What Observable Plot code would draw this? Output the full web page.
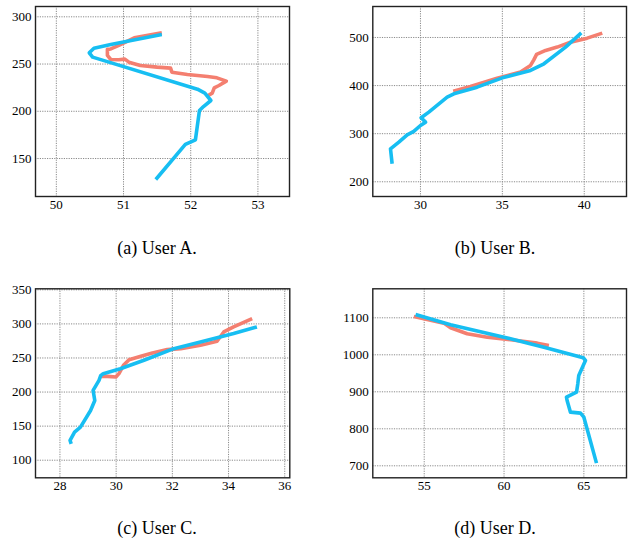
<!DOCTYPE html>
<html>
<head>
<meta charset="utf-8">
<script src="https://cdn.jsdelivr.net/npm/d3@7"></script>
<script src="https://cdn.jsdelivr.net/npm/@observablehq/plot@0.6"></script>
<style>
  html, body { margin: 0; padding: 0; background: #fff; }
  #wrap { position: relative; width: 629px; height: 540px; overflow: hidden; }
  .panel { position: absolute; }
  .cap { position: absolute; font-family: "Liberation Serif", "Tinos", "Nimbus Roman", "DejaVu Serif", serif; font-size: 18px; line-height: 18px; color: #000; text-align: center; width: 200px; white-space: nowrap; }
  .panel text { font-family: "Liberation Serif", "Tinos", "Nimbus Roman", "DejaVu Serif", serif !important; }
</style>
</head>
<body>
<div id="wrap"></div>
<script>
// ---------- data ----------
const captions = ["(a) User A.", "(b) User B.", "(c) User C.", "(d) User D."];

// User A
const userA_red = [[51.57,283],[51.16,277.8],[50.93,269.7],[50.81,266],[50.76,265.5],[50.76,259.1],[50.81,254.8],[50.93,254.5],[51.02,255.2],[51.08,252],[51.25,248.5],[51.50,246.7],[51.70,245.7],[51.72,241.4],[51.95,239],[52.25,236.8],[52.39,235.4],[52.53,231.9],[52.42,227.3],[52.35,224.8],[52.32,219.2],[52.26,216.7]];
const userA_blue = [[51.48,127.8],[51.92,164.9],[52.07,169.8],[52.13,200.8],[52.19,205],[52.30,211.4],[52.21,219.2],[52.10,223.4],[50.54,257.3],[50.49,261.9],[50.56,266.8],[50.81,270.7],[51.57,281.3]];
const userA_xticks = [50, 51, 52, 53];
const userA_yticks = [150, 200, 250, 300];
const userA_xdomain = [49.69, 53.47];
const userA_ydomain = [109.8, 310.9];

// User B
const userB_red = [[32.0,388.4],[33.05,398],[34.68,415.5],[36.11,428],[36.72,441.8],[36.92,453.6],[37.09,464.7],[37.64,473],[38.35,480],[39.16,490.3],[40.18,498.6],[41.1,509]];
const userB_blue = [[28.27,237.4],[28.17,268.5],[28.68,282.4],[29.19,297.6],[29.59,304.6],[30.0,317],[30.31,324],[30.04,333],[30.51,344.8],[31.63,376],[32.04,382.9],[33.46,396.7],[35.0,416.1],[36.72,431.4],[37.54,445.3],[38.86,479.9],[39.82,509.7]];
const userB_xticks = [30, 35, 40];
const userB_yticks = [200, 300, 400, 500];
const userB_xdomain = [27.09, 42.58];
const userB_ydomain = [169.4, 564.4];

// User C
const userC_red = [[29.45,223],[29.69,223],[29.99,222],[30.1,227],[30.26,239.2],[30.46,247.5],[30.88,252.5],[31.29,257.4],[31.82,262.3],[32.3,263.7],[33.0,268.6],[33.59,274.5],[33.83,288.2],[34.18,295.6],[34.84,307.8]];
const userC_blue = [[28.40,124],[28.36,129],[28.52,141.2],[28.73,148.5],[29.09,173],[29.24,187.7],[29.18,202.5],[29.39,217.2],[29.45,224],[29.54,227],[30.15,234.3],[30.99,246.6],[32.05,263.7],[33.0,273.5],[34.18,285.8],[35.01,295.6]];
const userC_xticks = [28, 30, 32, 34, 36];
const userC_yticks = [100, 150, 200, 250, 300, 350];
const userC_xdomain = [27.13, 36.18];
const userC_ydomain = [74.2, 351.5];

// User D
const userD_red = [[54.35,1103.6],[56.23,1085.6],[56.65,1073],[57.69,1056.8],[58.95,1047.7],[60.42,1040.5],[62.08,1031.5],[62.81,1025.2]];
const userD_blue = [[65.79,707.2],[65.0,831.5],[64.79,842.3],[64.16,845],[63.95,876.6],[63.91,885.6],[64.54,899],[64.62,921.6],[64.68,944],[65.10,984.7],[64.96,992],[62.5,1020.7],[60.0,1047.7],[56.65,1081],[54.46,1109]];
const userD_xticks = [55, 60, 65];
const userD_yticks = [700, 800, 900, 1000, 1100];
const userD_xdomain = [51.78, 67.67];
const userD_ydomain = [667.6, 1178.4];

// ---------- layout ----------
const RED = "#F47F70";
const BLUE = "#17BEF2";
const FONT = "'Liberation Serif', 'Tinos', 'Nimbus Roman', 'DejaVu Serif', serif";
const wrap = document.getElementById("wrap");

function panel(red, blue, xticks, yticks, xdomain, ydomain, box) {
  const chart = Plot.plot({
    width: box.width,
    height: box.height,
    marginLeft: box.ml, marginRight: box.mr, marginTop: box.mt, marginBottom: box.mb,
    style: { fontFamily: FONT, fontSize: "13px", color: "#000", background: "transparent" },
    x: { domain: xdomain, ticks: xticks, tickSize: 0, tickPadding: 3, label: null, tickFormat: d => String(d) },
    y: { domain: ydomain, ticks: yticks, tickSize: 0, tickPadding: 4, label: null, tickFormat: d => String(d) },
    marks: [
      Plot.gridX(xticks, { stroke: "#8a8a8a", strokeOpacity: 1, strokeWidth: 1, strokeDasharray: "1.2,1.2" }),
      Plot.gridY(yticks, { stroke: "#8a8a8a", strokeOpacity: 1, strokeWidth: 1, strokeDasharray: "1.2,1.2" }),
      Plot.line(red, { x: d => d[0], y: d => d[1], stroke: RED, strokeWidth: 3.6, strokeLinejoin: "round", strokeLinecap: "butt" }),
      Plot.line(blue, { x: d => d[0], y: d => d[1], stroke: BLUE, strokeWidth: 3.6, strokeLinejoin: "round", strokeLinecap: "butt" }),
      Plot.frame({ stroke: "#222", strokeWidth: 1.4 })
    ]
  });
  chart.classList.add("panel");
  chart.style.left = box.left + "px";
  chart.style.top = box.top + "px";
  chart.style.fontFamily = FONT;
  wrap.appendChild(chart);
}

function caption(text, cx, top) {
  const d = document.createElement("div");
  d.className = "cap";
  d.textContent = text;
  d.style.left = (cx - 100) + "px";
  d.style.top = top + "px";
  wrap.appendChild(d);
}

panel(userA_red, userA_blue, userA_xticks, userA_yticks, userA_xdomain, userA_ydomain,
  { left: 0, top: 0, width: 314, height: 215, ml: 35, mr: 25, mt: 6, mb: 19 });
panel(userB_red, userB_blue, userB_xticks, userB_yticks, userB_xdomain, userB_ydomain,
  { left: 314, top: 0, width: 315, height: 215, ml: 58.3, mr: 3, mt: 6, mb: 19 });
panel(userC_red, userC_blue, userC_xticks, userC_yticks, userC_xdomain, userC_ydomain,
  { left: 0, top: 280, width: 314, height: 215, ml: 35, mr: 24.7, mt: 8.3, mb: 17.7 });
panel(userD_red, userD_blue, userD_xticks, userD_yticks, userD_xdomain, userD_ydomain,
  { left: 314, top: 280, width: 315, height: 215, ml: 58.3, mr: 3, mt: 8.3, mb: 17.7 });

caption(captions[0], 157, 239);
caption(captions[1], 495, 239);
caption(captions[2], 157, 519);
caption(captions[3], 495, 519);
</script>
</body>
</html>
